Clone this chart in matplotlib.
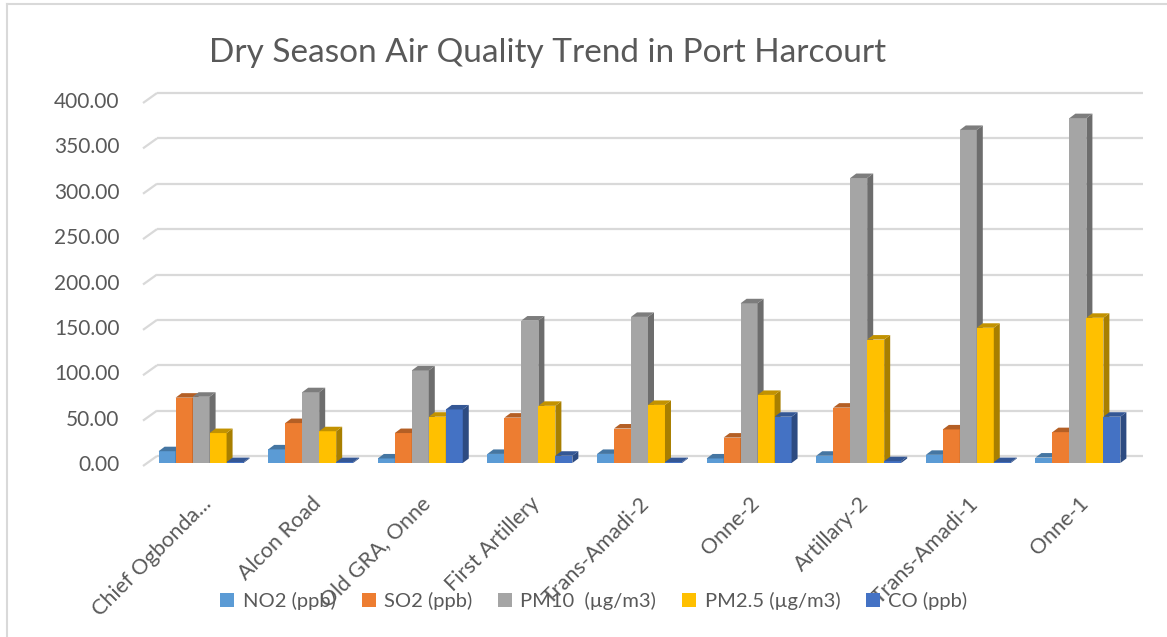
import numpy as np
import matplotlib
matplotlib.use("Agg")
import matplotlib.pyplot as plt
from matplotlib.patches import Polygon, Patch
from matplotlib.lines import Line2D
from matplotlib.colors import to_rgb

# ---------------- data ----------------
categories = ["Chief Ogbonda...", "Alcon Road", "Old GRA, Onne", "First Artillery",
              "Trans-Amadi-2", "Onne-2", "Artillary-2", "Trans-Amadi-1", "Onne-1"]
no2 = [13, 15, 5, 10, 10, 5, 8, 9, 6]
so2 = [72, 44, 33, 50, 38, 28, 61, 37, 34]
pm10 = [73, 78, 102, 157, 161, 176, 314, 367, 380]
pm25 = [33, 35, 51, 63, 64, 75, 136, 149, 160]
co = [1, 1, 59, 8, 1, 51, 2, 1, 51]
series_names = ["NO2 (ppb)", "SO2 (ppb)", "PM10  (\u00b5g/m3)", "PM2.5 (\u00b5g/m3)", "CO (ppb)"]
series_values = [no2, so2, pm10, pm25, co]
series_colors = ["#5B9BD5", "#ED7D31", "#A5A5A5", "#FFC000", "#4472C4"]
yticks = [0, 50, 100, 150, 200, 250, 300, 350, 400]
title = "Dry Season Air Quality Trend in Port Harcourt"

FONT = ["Lato", "DejaVu Sans"]
TXT = "#595959"
plt.rcParams["font.family"] = FONT

W, H = 1167, 637
fig = plt.figure(figsize=(W / 100, H / 100), dpi=100)

# axes geometry (pixels)
ax_l, ax_r, ax_b, ax_t = 143, 1136, 463, 100
ax = fig.add_axes([ax_l / W, (H - ax_b) / H, (ax_r - ax_l) / W, (ax_b - ax_t) / H])
xmin, xmax = -0.53, len(categories) - 1 + 0.53
ymin, ymax = 0, 400
ax.set_xlim(xmin, xmax)
ax.set_ylim(ymin, ymax)
for s in ax.spines.values():
    s.set_visible(False)

px_x = (xmax - xmin) / (ax_r - ax_l)   # data units per pixel (x)
px_y = (ymax - ymin) / (ax_b - ax_t)   # data units per pixel (y)

# back-wall gridlines with 3D-like diagonal at the left
grid_c = "#D9D9D9"
bdx, bdy = 14, 7
for v in yticks:
    ax.plot([xmin, xmin + bdx * px_x], [v - 3 * px_y, v + bdy * px_y],
            color=grid_c, lw=1.6, zorder=1, clip_on=False, solid_capstyle="butt")
    ax.plot([xmin + bdx * px_x, xmax + 7 * px_x], [v + bdy * px_y, v + bdy * px_y],
            color=grid_c, lw=1.6, zorder=1, clip_on=False, solid_capstyle="butt")

# bars with pseudo-3D faces
n = len(series_values)
w = 0.155
dx, dy = 6 * px_x, 4.5 * px_y
xs = np.arange(len(categories))


def shade(c, f):
    r, g, b = to_rgb(c)
    return (r * f, g * f, b * f)


for i, (vals, col) in enumerate(zip(series_values, series_colors)):
    z = 3 + i * 0.1
    pos = xs + (i - (n - 1) / 2) * w
    ax.bar(pos, vals, width=w, color=col, zorder=z, linewidth=0)
    for p, h in zip(pos, vals):
        x0, x1 = p - w / 2, p + w / 2
        side = Polygon([(x1, 0), (x1, h), (x1 + dx, h + dy), (x1 + dx, dy)],
                       closed=True, facecolor=shade(col, 0.66), edgecolor="none",
                       zorder=z + 0.05, clip_on=False)
        top = Polygon([(x0, h), (x1, h), (x1 + dx, h + dy), (x0 + dx, h + dy)],
                      closed=True, facecolor=shade(col, 0.76), edgecolor="none",
                      zorder=z + 0.06, clip_on=False)
        ax.add_patch(side)
        ax.add_patch(top)

# ticks
ax.set_yticks(yticks)
ax.set_yticklabels([f"{v:.2f}" for v in yticks], fontsize=15, color=TXT)
ax.tick_params(axis="y", length=0, pad=17)
ax.set_xticks(xs)
ax.set_xticklabels(categories, rotation=45, ha="right", va="top",
                   rotation_mode="anchor", fontsize=15.5, color=TXT)
ax.tick_params(axis="x", length=0, pad=22)

# title
fig.text(548 / W, 1 - 53 / H, title, ha="center", va="center",
         fontsize=24, color=TXT)

# legend
handles = [Patch(facecolor=c, edgecolor="none") for c in series_colors]
fig.legend(handles, series_names, loc="center", bbox_to_anchor=(594 / W, 1 - 601 / H),
           ncol=5, frameon=False, fontsize=14.5, labelcolor=TXT,
           handlelength=0.7, handleheight=0.7, handletextpad=0.4, columnspacing=1.3)

# chart border (top and left visible)
fig.add_artist(Line2D([7 / W, 1.0], [1 - 4 / H, 1 - 4 / H], color="#D9D9D9", lw=1.5,
                      transform=fig.transFigure))
fig.add_artist(Line2D([7 / W, 7 / W], [0, 1 - 4 / H], color="#D9D9D9", lw=1.5,
                      transform=fig.transFigure))

fig.savefig("out.png", dpi=100, facecolor="white")
